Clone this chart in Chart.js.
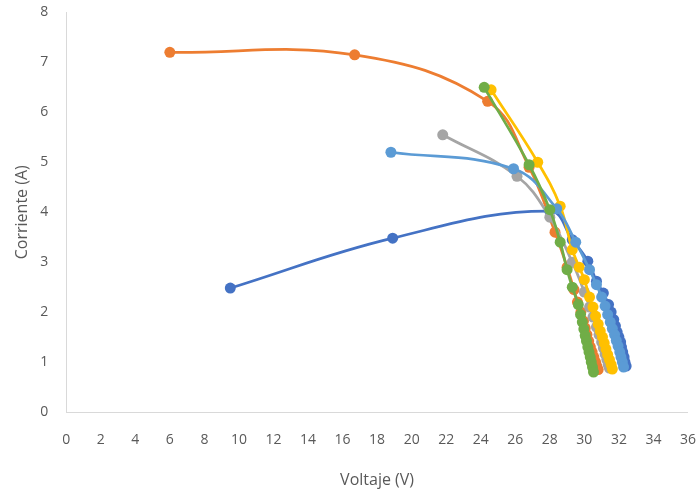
<!DOCTYPE html>
<html><head><meta charset="utf-8">
<script src="https://cdn.jsdelivr.net/npm/chart.js@4/dist/chart.umd.min.js"></script>
<style>html,body{margin:0;padding:0;background:#fff}#wrap{width:700px;height:495px}</style>
</head><body><div id="wrap"><canvas id="c"></canvas></div>
<script>
const xTicks = [0,2,4,6,8,10,12,14,16,18,20,22,24,26,28,30,32,34,36];
const yTicks = [0,1,2,3,4,5,6,7,8];
const xTitle = "Voltaje (V)";
const yTitle = "Corriente (A)";

const serieAzul = [[9.5,2.48],[18.9,3.48],[28.0,4.02],[29.3,3.45],[30.2,3.02],[30.7,2.62],[31.1,2.38],[31.4,2.15],[31.55,2.0],[31.7,1.85],[31.8,1.72],[31.9,1.6],[32.0,1.5],[32.1,1.4],[32.15,1.3],[32.22,1.2],[32.3,1.1],[32.35,1.0],[32.42,0.92]];
const serieNaranja = [[6.0,7.2],[16.7,7.15],[24.4,6.22],[26.8,4.9],[28.3,3.6],[29.0,2.9],[29.4,2.45],[29.6,2.2],[29.8,2.0],[29.95,1.82],[30.05,1.68],[30.15,1.55],[30.25,1.42],[30.35,1.3],[30.45,1.2],[30.55,1.1],[30.65,1.0],[30.72,0.92],[30.8,0.85]];
const serieGris = [[21.8,5.55],[26.1,4.72],[28.0,3.9],[29.3,3.0],[30.0,2.4],[30.3,2.1],[30.5,1.9],[30.7,1.7],[30.85,1.55],[31.0,1.4],[31.1,1.28],[31.2,1.16],[31.3,1.05],[31.38,0.95],[31.45,0.88]];
const serieAmarilla = [[24.6,6.45],[27.3,5.0],[28.6,4.12],[29.3,3.25],[29.7,2.9],[30.0,2.65],[30.3,2.3],[30.5,2.1],[30.65,1.92],[30.8,1.76],[30.92,1.62],[31.05,1.5],[31.15,1.38],[31.25,1.26],[31.35,1.15],[31.45,1.05],[31.55,0.95],[31.62,0.86]];
const serieCeleste = [[18.8,5.2],[25.9,4.87],[28.4,4.07],[29.5,3.4],[30.3,2.85],[30.7,2.55],[31.0,2.3],[31.2,2.12],[31.35,1.95],[31.5,1.8],[31.62,1.67],[31.75,1.55],[31.85,1.43],[31.95,1.32],[32.05,1.2],[32.12,1.1],[32.2,1.0],[32.27,0.9]];
const serieVerde = [[24.2,6.5],[26.8,4.95],[28.0,4.05],[28.6,3.4],[29.0,2.85],[29.3,2.5],[29.65,2.15],[29.78,1.95],[29.88,1.8],[29.97,1.66],[30.05,1.53],[30.12,1.42],[30.2,1.3],[30.27,1.2],[30.34,1.1],[30.4,1.0],[30.47,0.9],[30.53,0.8]];

const series = [serieAzul, serieNaranja, serieGris, serieAmarilla, serieCeleste, serieVerde];
const colors = ["#4472C4","#ED7D31","#A5A5A5","#FFC000","#5B9BD5","#70AD47"];

const datasets = series.map((s,i)=>({
  data: s.map(p=>({x:p[0],y:p[1]})),
  borderColor: colors[i], backgroundColor: colors[i],
  borderWidth: 2.75, pointRadius: 5.5, pointBorderWidth: 0,
  tension: 0.4, showLine: true, order: series.length - i
}));

const clear = 'rgba(0,0,0,0)';
const tickFont = {family:"'Open Sans', sans-serif", size:14};
new Chart(document.getElementById('c'), {
  type:'scatter',
  data:{datasets},
  options:{
    responsive:true, maintainAspectRatio:false, animation:false,
    layout:{padding:{left:13,right:2,top:9,bottom:3}},
    plugins:{legend:{display:false},tooltip:{enabled:false}},
    scales:{
      x:{min:0,max:36,
        afterBuildTicks: ax=>{ax.ticks = xTicks.map(v=>({value:v}));},
        grid:{display:true, color:clear, drawOnChartArea:false, drawTicks:true, tickLength:16, tickColor:clear},
        border:{display:true,color:'#D9D9D9',width:1},
        ticks:{color:'#595959',font:tickFont,padding:4,maxRotation:0,autoSkip:false},
        title:{display:true,text:xTitle,color:'#595959',font:{family:"'Open Sans', sans-serif",size:16},padding:{top:18,bottom:2}}
      },
      y:{min:0,max:8,
        afterBuildTicks: ax=>{ax.ticks = yTicks.map(v=>({value:v}));},
        grid:{display:true, color:clear, drawOnChartArea:false, drawTicks:true, tickLength:14, tickColor:clear},
        border:{display:true,color:'#D9D9D9',width:1},
        ticks:{color:'#595959',font:tickFont,padding:4},
        title:{display:true,text:yTitle,color:'#595959',font:{family:"'Open Sans', sans-serif",size:16},padding:{top:0,bottom:4}}
      }
    }
  }
});
</script></body></html>
